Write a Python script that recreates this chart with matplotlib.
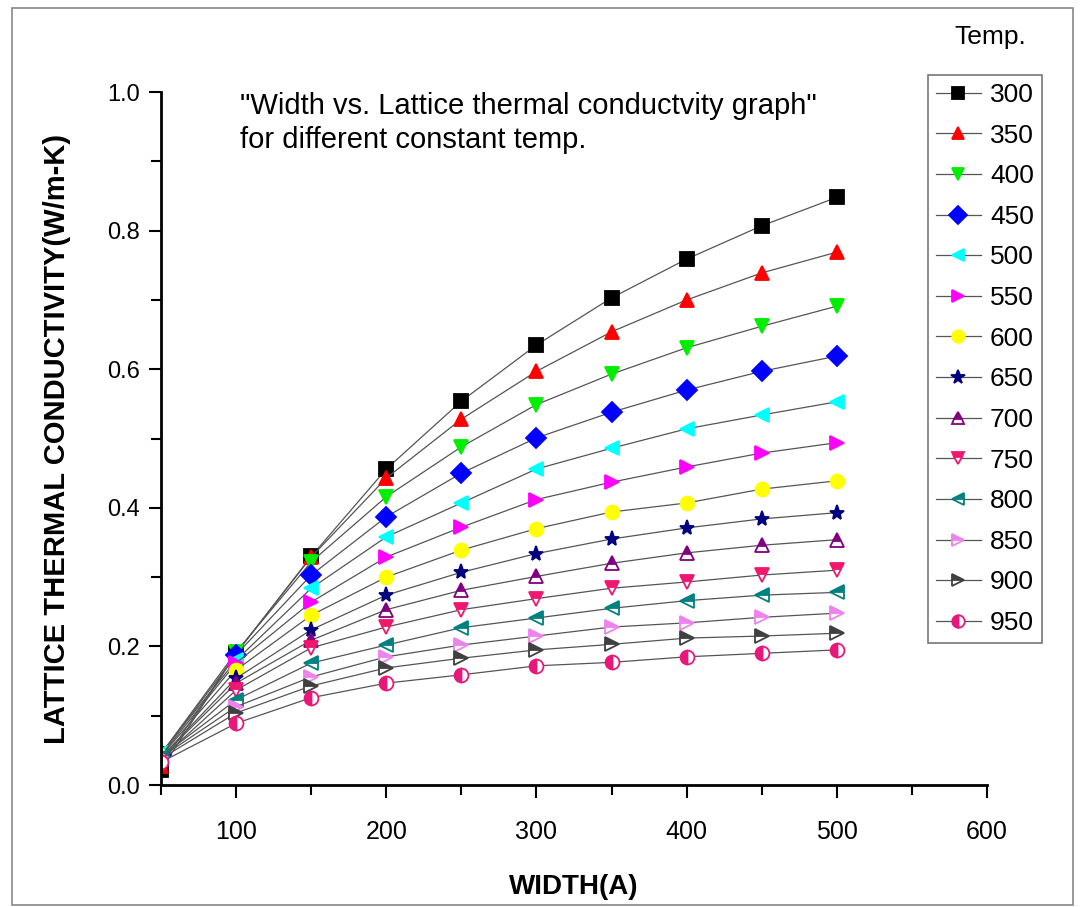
import numpy as np
import matplotlib.pyplot as plt
from matplotlib.patches import Rectangle
from matplotlib.ticker import MultipleLocator

# ancho (A) y conductividad termica de red para cada temperatura
width = [50, 100, 150, 200, 250, 300, 350, 400, 450, 500]
temps = ["300", "350", "400", "450", "500", "550", "600",
         "650", "700", "750", "800", "850", "900", "950"]

k300 = [0.022, 0.190, 0.330, 0.456, 0.554, 0.635, 0.703, 0.759, 0.807, 0.848]
k350 = [0.028, 0.190, 0.329, 0.443, 0.528, 0.597, 0.654, 0.700, 0.739, 0.769]
k400 = [0.045, 0.192, 0.322, 0.416, 0.488, 0.549, 0.593, 0.631, 0.662, 0.691]
k450 = [0.044, 0.188, 0.303, 0.387, 0.450, 0.501, 0.538, 0.570, 0.597, 0.619]
k500 = [0.046, 0.180, 0.284, 0.358, 0.407, 0.456, 0.486, 0.514, 0.534, 0.553]
k550 = [0.043, 0.176, 0.264, 0.329, 0.372, 0.412, 0.437, 0.459, 0.479, 0.494]
k600 = [0.042, 0.166, 0.245, 0.300, 0.339, 0.370, 0.394, 0.407, 0.427, 0.439]
k650 = [0.040, 0.154, 0.224, 0.274, 0.307, 0.334, 0.355, 0.371, 0.384, 0.393]
k700 = [0.040, 0.147, 0.209, 0.253, 0.281, 0.301, 0.320, 0.335, 0.346, 0.354]
k750 = [0.038, 0.137, 0.198, 0.228, 0.253, 0.269, 0.284, 0.293, 0.303, 0.310]
k800 = [0.041, 0.123, 0.176, 0.202, 0.227, 0.241, 0.255, 0.266, 0.274, 0.278]
k850 = [0.040, 0.113, 0.156, 0.185, 0.202, 0.215, 0.228, 0.234, 0.242, 0.248]
k900 = [0.038, 0.104, 0.143, 0.169, 0.183, 0.195, 0.203, 0.212, 0.215, 0.219]
k950 = [0.033, 0.089, 0.126, 0.147, 0.159, 0.172, 0.177, 0.185, 0.190, 0.195]

series = [k300, k350, k400, k450, k500, k550, k600,
          k650, k700, k750, k800, k850, k900, k950]
colors = ["black", "red", "#00ee00", "blue", "cyan", "magenta", "yellow",
          "navy", "purple", "#f0186e", "teal", "violet", "#404040", "#e8187a"]
markers = ["s", "^", "v", "D", "<", ">", "o", "*", "^", "v", "<", ">", ">", "o"]
fills = ["full"] * 8 + ["top", "top", "top", "top", "top", "left"]

fnt = "Liberation Sans"

fig = plt.figure(figsize=(10.81, 9.07), dpi=100)
ax = fig.add_axes([0.149, 0.1345, 0.764, 0.764])

for i in range(len(temps)):
    ms = 11 if markers[i] == "*" else 10
    ax.plot(width, series[i], color="#555555", lw=0.9,
            marker=markers[i], markersize=ms, markerfacecolor=colors[i],
            markeredgecolor=colors[i], markerfacecoloralt="white",
            fillstyle=fills[i], markeredgewidth=1.3, label=temps[i])

ax.set_xlim(50, 600)
ax.set_ylim(0, 1.0)
ax.xaxis.set_minor_locator(MultipleLocator(50))
ax.yaxis.set_minor_locator(MultipleLocator(0.1))
ax.set_xticks([100, 200, 300, 400, 500, 600])
ax.set_xticklabels(["100", "200", "300", "400", "500", "600"], family=fnt, fontsize=18)
ax.set_yticks([0.0, 0.2, 0.4, 0.6, 0.8, 1.0])
ax.set_yticklabels(["0.0", "0.2", "0.4", "0.6", "0.8", "1.0"], family=fnt, fontsize=17)
ax.tick_params(axis="both", which="major", direction="out", length=9, width=1.5)
ax.tick_params(axis="both", which="minor", direction="out", length=7, width=1.5)
ax.tick_params(axis="x", pad=16)
ax.tick_params(axis="y", pad=6)
ax.spines["top"].set_visible(False)
ax.spines["right"].set_visible(False)
ax.spines["left"].set_linewidth(2)
ax.spines["bottom"].set_linewidth(2)

ax.set_xlabel("WIDTH(A)", family=fnt, fontsize=20, fontweight="bold", labelpad=22)
ax.set_ylabel("LATTICE THERMAL CONDUCTIVITY(W/m-K)", family=fnt,
              fontsize=21, fontweight="bold", labelpad=26)

ax.text(0.095, 1.0, '"Width vs. Lattice thermal conductvity graph"\nfor different constant temp.',
        transform=ax.transAxes, family=fnt, fontsize=21, va="top", ha="left",
        linespacing=1.25)

leg = ax.legend(loc="upper left", bbox_to_anchor=(928 / 1081, 1 - 75 / 907),
                bbox_transform=fig.transFigure, prop={"family": fnt, "size": 19},
                frameon=True, fancybox=False, edgecolor="#555555",
                handlelength=1.7, handletextpad=0.35, labelspacing=0.63,
                borderpad=0.3, borderaxespad=0, markerscale=0.9)
leg.get_frame().set_linewidth(1.2)

fig.text(990 / 1081, 1 - 37 / 907, "Temp.", family=fnt, fontsize=19,
         ha="center", va="center")

fig.patches.append(Rectangle((12 / 1081, 0.002), 1061 / 1081, 1 - 8 / 907 - 0.002,
                             transform=fig.transFigure, fill=False,
                             edgecolor="#888888", lw=1.2))

fig.savefig("out.png", dpi=100)
